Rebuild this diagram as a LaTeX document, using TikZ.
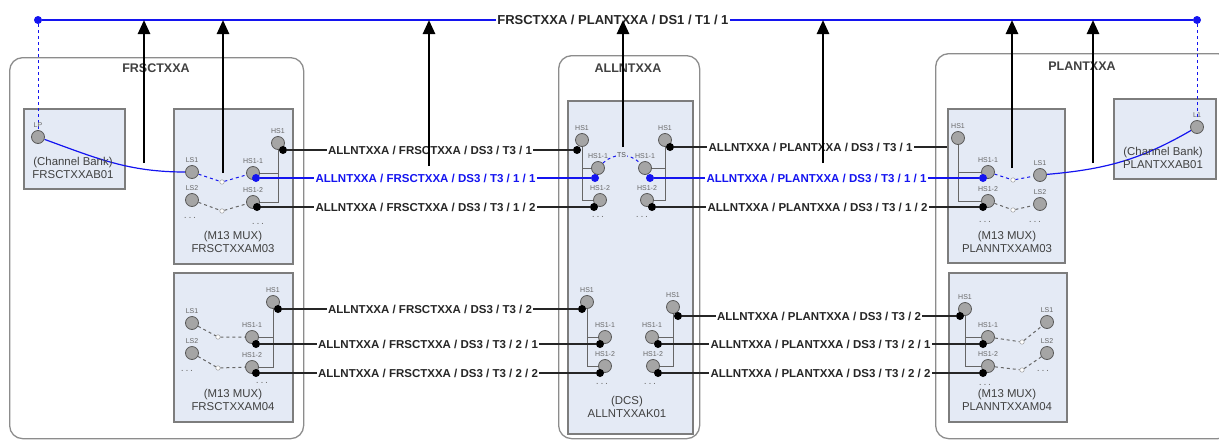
\documentclass[tikz,border=0pt]{standalone}
\usepackage{fontspec}
\setmainfont{Liberation Sans}
\usetikzlibrary{arrows.meta}

\definecolor{devfill}{RGB}{228,234,245}
\definecolor{devline}{RGB}{125,125,125}
\definecolor{regline}{RGB}{140,140,140}
\definecolor{portfill}{RGB}{165,165,165}
\definecolor{txtgray}{RGB}{64,64,64}
\definecolor{linkblue}{RGB}{20,20,240}

\pgfdeclarelayer{boxes}
\pgfdeclarelayer{wires}
\pgfsetlayers{boxes,wires,main}

\begin{document}
\begin{tikzpicture}[
        x=1pt, y=-1pt,
        label distance=1.5pt,
        region/.style={draw=regline, line width=1.3pt, rounded corners=13pt, anchor=north west},
        device/.style={draw=devline, fill=devfill, line width=1.6pt, anchor=north west},
        port/.style={circle, draw=black!65, fill=portfill, line width=0.8pt,
            minimum size=13pt, inner sep=0pt},
        plbl/.style={font=\fontsize{7}{7}\selectfont, text=black!60, inner sep=1pt},
        regtitle/.style={font=\bfseries\fontsize{12.5}{13}\selectfont, text=txtgray},
        devtxt/.style={font=\fontsize{11.4}{13.5}\selectfont, text=txtgray, align=center},
        pdot/.style={circle, fill=black, minimum size=8pt, inner sep=0pt},
        bdot/.style={pdot, fill=linkblue},
        trunk/.style={line width=2.2pt, draw=black!85},
        btrunk/.style={line width=2pt, draw=linkblue},
        lbl/.style={font=\bfseries\fontsize{11.5}{12}\selectfont, text=black!85,
            fill=white, inner sep=1.5pt},
        blbl/.style={lbl, text=linkblue},
        bracket/.style={draw=black!60, line width=0.8pt},
        xconn/.style={draw=black!60, line width=1pt, dashed},
        bxconn/.style={draw=linkblue, line width=1pt, dashed},
        conn/.style={circle, draw=black!45, fill=white, minimum size=4.5pt, inner sep=0pt},
        more/.style={font=\bfseries\fontsize{7}{7}\selectfont, text=black!55},
        uparrow/.style={line width=2.6pt, draw=black, -{Triangle[length=14pt, width=12pt]}}
    ]

    \useasboundingbox (0,0) rectangle (1219,440);

    % Sites and equipment
    \begin{pgfonlayer}{boxes}
    \node[region, minimum width=294pt, minimum height=381pt] (frs) at (9,57) {};
    \node[region, minimum width=141pt, minimum height=383pt] (alln) at (558,55) {};
    \node[region, minimum width=295pt, minimum height=385pt] (plant) at (935,53) {};

    \node[device, minimum width=101pt, minimum height=80pt] (frsB) at (23,108) {};
    \node[device, minimum width=119pt, minimum height=155pt] (frsM3) at (173,108) {};
    \node[device, minimum width=119pt, minimum height=149pt] (frsM4) at (173,272) {};
    \node[device, minimum width=125pt, minimum height=333pt] (dcs) at (567,100) {};
    \node[device, minimum width=117pt, minimum height=154pt] (plM3) at (947,108) {};
    \node[device, minimum width=118pt, minimum height=149pt] (plM4) at (948,272) {};
    \node[device, minimum width=102pt, minimum height=80pt] (plB) at (1113,98) {};
    \end{pgfonlayer}

    \node[regtitle] (frsT) at (156,68) {FRSCTXXA};
    \node[regtitle] (allnT) at (628,68) {ALLNTXXA};
    \node[regtitle] (plantT) at (1082,66) {PLANTXXA};

    \node[devtxt] (frsBtxt) at (73,168) {(Channel Bank)\\FRSCTXXAB01};
    \node[devtxt] (frsM3txt) at (233,242) {(M13 MUX)\\FRSCTXXAM03};
    \node[devtxt] (frsM4txt) at (233,400) {(M13 MUX)\\FRSCTXXAM04};
    \node[devtxt] (dcstxt) at (627,407) {(DCS)\\ALLNTXXAK01};
    \node[devtxt] (plM3txt) at (1007,242) {(M13 MUX)\\PLANNTXXAM03};
    \node[devtxt] (plM4txt) at (1007,400) {(M13 MUX)\\PLANNTXXAM04};
    \node[devtxt] (plBtxt) at (1163,158) {(Channel Bank)\\PLANTXXAB01};

    % Ports FRSCTXXA
    \node[port, label={[plbl]above:LP}] (lp) at (38,137) {};
    \node[port, label={[plbl]above:HS1}] (fm3hs) at (278,143) {};
    \node[port, label={[plbl]above:LS1}] (fm3ls1) at (192,172) {};
    \node[port, label={[plbl]above:LS2}] (fm3ls2) at (192,200) {};
    \node[port, label={[plbl]above:HS1-1}] (fm3hs1) at (253,173) {};
    \node[port, label={[plbl]above:HS1-2}] (fm3hs2) at (253,202) {};
    \node[conn] (fm3c1) at (222,182) {};
    \node[conn] (fm3c2) at (222,211) {};
    \node[more] (fm3m1) at (190,218) {. . .};
    \node[more] (fm3m2) at (258,224) {. . .};

    \node[port, label={[plbl]above:HS1}] (fm4hs) at (273,302) {};
    \node[port, label={[plbl]above:LS1}] (fm4ls1) at (192,323) {};
    \node[port, label={[plbl]above:LS2}] (fm4ls2) at (192,353) {};
    \node[port, label={[plbl]above:HS1-1}] (fm4hs1) at (252,337) {};
    \node[port, label={[plbl]above:HS1-2}] (fm4hs2) at (252,367) {};
    \node[conn] (fm4c1) at (218,337) {};
    \node[conn] (fm4c2) at (218,368) {};
    \node[more] (fm4m1) at (187,371) {. . .};
    \node[more] (fm4m2) at (262,383) {. . .};

    % Ports DCS
    \node[port, label={[plbl]above:HS1}] (khsL) at (582,140) {};
    \node[port, label={[plbl]above:HS1-1}] (khs1L) at (598,168) {};
    \node[port, label={[plbl]above:HS1-2}] (khs2L) at (600,200) {};
    \node[port, label={[plbl]above:HS1}] (khsR) at (665,140) {};
    \node[port, label={[plbl]above:HS1-1}] (khs1R) at (645,168) {};
    \node[port, label={[plbl]above:HS1-2}] (khs2R) at (647,200) {};
    \node[more] (km1) at (598,217) {. . .};
    \node[more] (km2) at (642,217) {. . .};

    \node[port, label={[plbl]above:HS1}] (khsLb) at (587,302) {};
    \node[port, label={[plbl]above:HS1-1}] (khs1Lb) at (605,337) {};
    \node[port, label={[plbl]above:HS1-2}] (khs2Lb) at (605,366) {};
    \node[port, label={[plbl]above:HS1}] (khsRb) at (673,307) {};
    \node[port, label={[plbl]above:HS1-1}] (khs1Rb) at (652,337) {};
    \node[port, label={[plbl]above:HS1-2}] (khs2Rb) at (653,366) {};
    \node[more] (km3) at (602,384) {. . .};
    \node[more] (km4) at (650,384) {. . .};

    % Ports PLANTXXA
    \node[port, label={[plbl]above:HS1}] (pm3hs) at (958,138) {};
    \node[port, label={[plbl]above:HS1-1}] (pm3hs1) at (988,172) {};
    \node[port, label={[plbl]above:HS1-2}] (pm3hs2) at (988,201) {};
    \node[port, label={[plbl]above:LS1}] (pm3ls1) at (1040,175) {};
    \node[port, label={[plbl]above:LS2}] (pm3ls2) at (1040,204) {};
    \node[conn] (pm3c1) at (1013,180) {};
    \node[conn] (pm3c2) at (1013,210) {};
    \node[more] (pm3m1) at (985,222) {. . .};
    \node[more] (pm3m2) at (1035,222) {. . .};

    \node[port, label={[plbl]above:HS1}] (pm4hs) at (965,309) {};
    \node[port, label={[plbl]above:HS1-1}] (pm4hs1) at (988,337) {};
    \node[port, label={[plbl]above:HS1-2}] (pm4hs2) at (988,366) {};
    \node[port, label={[plbl]above:LS1}] (pm4ls1) at (1047,322) {};
    \node[port, label={[plbl]above:LS2}] (pm4ls2) at (1047,353) {};
    \node[conn] (pm4c1) at (1022,342) {};
    \node[conn] (pm4c2) at (1022,370) {};
    \node[more] (pm4m1) at (1043,371) {. . .};
    \node[more] (pm4m2) at (985,385) {. . .};

    \node[port, label={[plbl]above:L1}] (l1) at (1197,127) {};

    % Cable ends
    \node[pdot] (fm3d0) at (283,150) {};
    \node[bdot] (fm3d1) at (256,178) {};
    \node[pdot] (fm3d2) at (257,207) {};
    \node[pdot] (fm4d0) at (278,309) {};
    \node[pdot] (fm4d1) at (256,344) {};
    \node[pdot] (fm4d2) at (256,373) {};
    \node[pdot] (kdL0) at (577,150) {};
    \node[bdot] (kdL1) at (595,178) {};
    \node[pdot] (kdL2) at (594,207) {};
    \node[pdot] (kdR0) at (670,147) {};
    \node[bdot] (kdR1) at (650,178) {};
    \node[pdot] (kdR2) at (652,207) {};
    \node[pdot] (kdLb0) at (582,309) {};
    \node[pdot] (kdLb1) at (600,344) {};
    \node[pdot] (kdLb2) at (600,373) {};
    \node[pdot] (kdRb0) at (678,316) {};
    \node[pdot] (kdRb1) at (658,344) {};
    \node[pdot] (kdRb2) at (658,373) {};
    \node[bdot] (pm3d1) at (983,178) {};
    \node[pdot] (pm3d2) at (983,207) {};
    \node[pdot] (pm4d0) at (960,316) {};
    \node[pdot] (pm4d1) at (983,344) {};
    \node[pdot] (pm4d2) at (983,373) {};
    \node[bdot] (busL) at (38,20) {};
    \node[bdot] (busR) at (1197,20) {};

    \begin{pgfonlayer}{wires}
    % inside the equipment
    \draw[bracket] (fm3hs) -- (fm3hs |- fm3hs2) -- (fm3hs2);
    \draw[bracket] (fm3hs |- fm3hs1) -- (fm3hs1);
    \draw[bracket] (fm4hs) -- (fm4hs |- fm4hs2) -- (fm4hs2);
    \draw[bracket] (fm4hs |- fm4hs1) -- (fm4hs1);
    \draw[bracket] (khsL) -- (khsL |- khs2L) -- (khs2L);
    \draw[bracket] (khsL |- khs1L) -- (khs1L);
    \draw[bracket] (khsR) -- (khsR |- khs2R) -- (khs2R);
    \draw[bracket] (khsR |- khs1R) -- (khs1R);
    \draw[bracket] (khsLb) -- (khsLb |- khs2Lb) -- (khs2Lb);
    \draw[bracket] (khsLb |- khs1Lb) -- (khs1Lb);
    \draw[bracket] (khsRb) -- (khsRb |- khs2Rb) -- (khs2Rb);
    \draw[bracket] (khsRb |- khs1Rb) -- (khs1Rb);
    \draw[bracket] (pm3hs) -- (pm3hs |- pm3hs2) -- (pm3hs2);
    \draw[bracket] (pm3hs |- pm3hs1) -- (pm3hs1);
    \draw[bracket] (pm4hs) -- (pm4hs |- pm4hs2) -- (pm4hs2);
    \draw[bracket] (pm4hs |- pm4hs1) -- (pm4hs1);

    \draw[bxconn] (fm3ls1) -- (fm3c1) -- (fm3hs1);
    \draw[xconn] (fm3ls2) -- (fm3c2) -- (fm3hs2);
    \draw[xconn] (fm4ls1) -- (fm4c1) -- (fm4hs1);
    \draw[xconn] (fm4ls2) -- (fm4c2) -- (fm4hs2);
    \draw[bxconn] (pm3hs1) -- (pm3c1) -- (pm3ls1);
    \draw[xconn] (pm3hs2) -- (pm3c2) -- (pm3ls2);
    \draw[xconn] (pm4hs1) -- (pm4c1) -- (pm4ls1);
    \draw[xconn] (pm4hs2) -- (pm4c2) -- (pm4ls2);
    \draw[bxconn] (khs1L) to[bend left=45]
        node[plbl, fill=devfill, text=black!70] (ts) {TS} (khs1R);

    % DS1 path
    \draw[btrunk] (busL) -- (busR)
        node[pos=0.496, lbl, font=\bfseries\fontsize{13}{13}\selectfont] (ds1) {FRSCTXXA / PLANTXXA / DS1 / T1 / 1};
    \draw[bxconn] (busL) -- (lp);
    \draw[bxconn] (busR) -- (l1);
    \draw[btrunk, line width=1.2pt] (lp) to[out=-20, in=180] (fm3ls1);
    \draw[btrunk, line width=1.2pt] (l1) to[out=-150, in=5] (pm3ls1);

    % DS3 cables
    \draw[trunk] (fm3d0) -- (kdL0) node[lbl, midway] {ALLNTXXA / FRSCTXXA / DS3 / T3 / 1};
    \draw[btrunk] (fm3d1) -- (kdL1) node[blbl, midway] {ALLNTXXA / FRSCTXXA / DS3 / T3 / 1 / 1};
    \draw[trunk] (fm3d2) -- (kdL2) node[lbl, midway] {ALLNTXXA / FRSCTXXA / DS3 / T3 / 1 / 2};
    \draw[trunk] (fm4d0) -- (kdLb0) node[lbl, midway] {ALLNTXXA / FRSCTXXA / DS3 / T3 / 2};
    \draw[trunk] (fm4d1) -- (kdLb1) node[lbl, midway] {ALLNTXXA / FRSCTXXA / DS3 / T3 / 2 / 1};
    \draw[trunk] (fm4d2) -- (kdLb2) node[lbl, midway] {ALLNTXXA / FRSCTXXA / DS3 / T3 / 2 / 2};

    \draw[trunk] (kdR0) -- (kdR0 -| plM3.west) node[lbl, midway] {ALLNTXXA / PLANTXXA / DS3 / T3 / 1};
    \draw[btrunk] (kdR1) -- (pm3d1) node[blbl, midway] {ALLNTXXA / PLANTXXA / DS3 / T3 / 1 / 1};
    \draw[trunk] (kdR2) -- (pm3d2) node[lbl, midway] {ALLNTXXA / PLANTXXA / DS3 / T3 / 1 / 2};
    \draw[trunk] (kdRb0) -- (pm4d0) node[lbl, midway] {ALLNTXXA / PLANTXXA / DS3 / T3 / 2};
    \draw[trunk] (kdRb1) -- (pm4d1) node[lbl, midway] {ALLNTXXA / PLANTXXA / DS3 / T3 / 2 / 1};
    \draw[trunk] (kdRb2) -- (pm4d2) node[lbl, midway] {ALLNTXXA / PLANTXXA / DS3 / T3 / 2 / 2};
    \end{pgfonlayer}

    % Arrows up to the DS1
    \coordinate (up1) at (144,163);
    \coordinate (up2) at (223,173);
    \coordinate (up3) at (429,166);
    \coordinate (up4) at (623,147);
    \coordinate (up5) at (823,163);
    \coordinate (up6) at (1012,168);
    \coordinate (up7) at (1093,163);
    \foreach \u in {up1,up2,up3,up4,up5,up6,up7}
        \draw[uparrow] (\u) -- (\u |- busL);

\end{tikzpicture}
\end{document}
